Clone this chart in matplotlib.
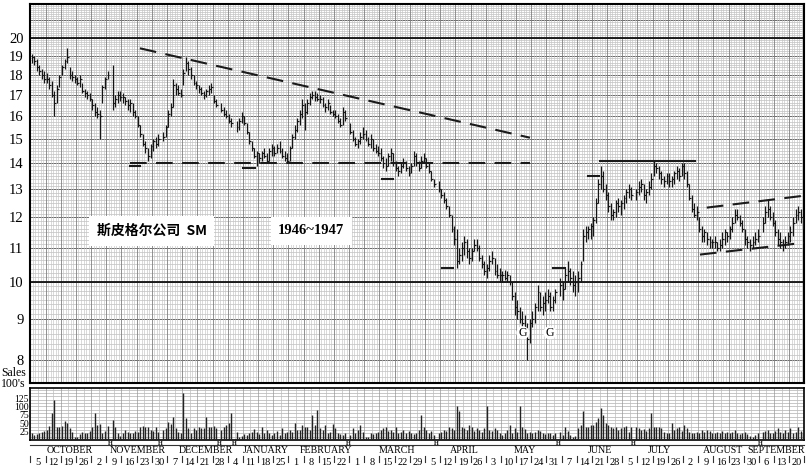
import numpy as np
import matplotlib.pyplot as plt
from matplotlib.transforms import blended_transform_factory

plt.rcParams['font.family'] = ['Liberation Serif', 'Noto Sans CJK SC', 'DejaVu Sans']

# daily bars, six trading days per week (Mon..Sat), None = holiday
# each row: one week, entries (high, low, close)
weeks = [
    [(19.1, 18.6, 18.9), (19.0, 18.5, 18.7), (18.8, 18.2, 18.4), (18.5, 18.0, 18.2), (18.3, 17.8, 18.0), (18.2, 17.6, 17.8)],
    [(18.1, 17.6, 17.8), (17.9, 17.3, 17.5), (17.7, 16.9, 17.0), (17.2, 16.0, 16.6), (17.5, 16.6, 17.3), (18.0, 17.4, 17.9)],
    [(18.5, 18.0, 18.4), (18.8, 18.3, 18.7), (19.4, 18.6, 18.9), (18.4, 17.8, 18.0), (18.2, 17.7, 17.9), (18.0, 17.6, 17.8)],
    [(17.9, 17.5, 17.6), (18.0, 17.4, 17.8), (17.6, 17.1, 17.2), (17.3, 16.9, 17.1), (17.2, 16.8, 17.0), (17.1, 16.7, 16.8)],
    [(16.8, 16.3, 16.5), (16.6, 16.0, 16.2), (16.4, 15.9, 16.1), (16.3, 15.0, 16.0), (17.5, 16.6, 17.4), (17.9, 17.3, 17.8)],
    [(18.2, 17.8, 18.0), None, (18.5, 16.3, 16.6), (17.0, 16.4, 16.8), (17.2, 16.6, 17.0), (17.2, 16.7, 16.9)],
    [(17.1, 16.6, 16.9), (16.9, 16.5, 16.7), (16.8, 16.3, 16.5), (16.8, 16.2, 16.6), (16.6, 16.0, 16.2), (16.3, 15.9, 16.0)],
    [(16.0, 15.5, 15.6), (15.6, 15.1, 15.2), (15.2, 14.7, 14.8), (14.9, 14.4, 14.6), (14.6, 14.1, 14.3), (14.8, 14.2, 14.7)],
    [(15.0, 14.5, 14.9), (15.1, 14.6, 14.8), (15.2, 14.7, 15.0), None, (15.3, 14.9, 15.1), (15.6, 15.1, 15.5)],
    [(16.3, 15.5, 16.1), (16.6, 16.0, 16.4), (17.8, 16.4, 17.5), (17.6, 17.0, 17.3), (17.5, 17.0, 17.1), (17.3, 16.9, 17.0)],
    [(18.3, 17.5, 18.1), (18.9, 18.2, 18.6), (18.7, 18.0, 18.3), (18.4, 17.8, 18.0), (18.0, 17.5, 17.6), (17.7, 17.3, 17.5)],
    [(17.5, 17.1, 17.3), (17.4, 17.0, 17.1), (17.2, 16.8, 17.0), (17.3, 16.9, 17.2), (17.5, 17.0, 17.3), (17.6, 17.1, 17.4)],
    [(17.0, 16.6, 16.7), (16.8, 16.4, 16.5), None, (16.6, 16.2, 16.3), (16.4, 16.0, 16.1), (16.3, 15.9, 16.0)],
    [(16.1, 15.7, 15.8), (15.9, 15.5, 15.7), None, (15.8, 15.3, 15.5), (15.9, 15.4, 15.8), (16.2, 15.7, 16.0)],
    [(16.0, 15.6, 15.7), (15.7, 15.2, 15.3), (15.3, 14.8, 14.9), (14.9, 14.5, 14.6), (14.6, 14.2, 14.3), (14.5, 13.9, 14.4)],
    [(14.4, 14.0, 14.2), (14.5, 14.1, 14.4), (14.6, 14.2, 14.3), (14.4, 14.0, 14.1), (14.6, 14.1, 14.5), (14.8, 14.3, 14.6)],
    [(14.7, 14.3, 14.4), (14.8, 14.4, 14.6), (14.9, 14.4, 14.5), (14.6, 14.2, 14.3), (14.5, 14.1, 14.2), (14.4, 14.0, 14.1)],
    [(14.7, 14.1, 14.6), (15.2, 14.6, 15.1), (15.6, 15.0, 15.4), (15.9, 15.3, 15.8), (16.3, 15.6, 16.1), (16.8, 15.9, 16.5)],
    [(16.6, 15.4, 16.2), (16.8, 16.1, 16.6), (17.1, 16.5, 16.9), (17.2, 16.8, 17.0), (17.2, 16.7, 16.9), (17.1, 16.7, 16.8)],
    [(17.0, 16.6, 16.8), (16.9, 16.4, 16.5), (16.6, 16.2, 16.4), (16.8, 16.3, 16.6), (16.5, 16.1, 16.2), (16.3, 16.0, 16.1)],
    [(16.3, 15.9, 16.0), (16.1, 15.7, 15.8), (15.9, 15.5, 15.6), (16.4, 15.6, 16.2), (16.3, 15.8, 15.9), None],
    [(15.7, 15.2, 15.3), (15.4, 14.9, 15.0), (15.1, 14.7, 14.8), (15.0, 14.6, 14.9), (15.3, 14.8, 15.1), (15.5, 15.0, 15.2)],
    [(15.4, 14.9, 15.0), (15.1, 14.7, 14.8), (15.2, 14.6, 15.0), (15.0, 14.5, 14.6), (14.8, 14.4, 14.5), (14.7, 14.3, 14.4)],
    [(14.6, 14.1, 14.2), (14.3, 13.8, 14.0), (14.2, 13.7, 13.9), (14.4, 13.9, 14.3), (14.6, 14.1, 14.4), (14.4, 13.9, 14.0)],
    [(14.1, 13.7, 13.8), (13.9, 13.5, 13.7), (14.0, 13.6, 13.9), (14.2, 13.8, 14.0), (14.1, 13.7, 13.8), (13.9, 13.5, 13.6)],
    [(14.0, 13.6, 13.9), (14.5, 13.9, 14.3), (14.4, 13.9, 14.0), (14.1, 13.7, 13.8), (14.3, 13.8, 14.1), (14.4, 14.0, 14.2)],
    [(14.2, 13.8, 13.9), (14.0, 13.6, 13.7), (13.7, 13.3, 13.4), (13.4, 13.1, 13.2), None, (13.3, 12.9, 13.0)],
    [(13.0, 12.7, 12.8), (12.9, 12.5, 12.6), (12.7, 12.3, 12.4), (12.4, 12.0, 12.1), (12.1, 11.5, 11.6), (11.7, 11.1, 11.3)],
    [(11.6, 10.4, 10.6), (11.0, 10.5, 10.8), (11.2, 10.6, 11.0), (11.4, 10.8, 11.2), (11.3, 10.7, 10.9), (11.0, 10.5, 10.7)],
    [(11.0, 10.6, 10.9), (11.3, 10.9, 11.1), (11.3, 10.9, 11.0), (11.1, 10.6, 10.7), (10.8, 10.4, 10.5), (10.6, 10.2, 10.3)],
    [(10.5, 10.1, 10.4), (10.8, 10.3, 10.6), (10.9, 10.5, 10.7), (10.7, 10.2, 10.3), (10.5, 10.1, 10.2), (10.4, 10.0, 10.2)],
    [(10.3, 10.0, 10.2), (10.35, 10.05, 10.1), (10.3, 10.0, 10.2), (10.2, 9.9, 10.0), (10.0, 9.5, 9.6), (9.7, 9.1, 9.3)],
    [(9.5, 9.0, 9.2), (9.3, 8.9, 9.0), (9.2, 8.8, 8.9), (9.1, 8.6, 8.8), (8.9, 8.0, 8.5), (9.0, 8.4, 8.9)],
    [(9.2, 8.8, 9.0), (9.4, 8.9, 9.3), (9.9, 9.2, 9.7), (9.7, 9.2, 9.3), (9.6, 9.1, 9.4), (9.7, 9.2, 9.5)],
    [(9.8, 9.4, 9.6), (9.7, 9.2, 9.3), (9.6, 9.2, 9.5), (9.8, 9.4, 9.7), None, (10.1, 9.6, 9.9)],
    [(10.0, 9.5, 9.8), (10.4, 9.8, 10.2), (10.6, 10.0, 10.3), (10.4, 9.9, 10.1), (10.3, 9.7, 9.9), (10.2, 9.6, 10.0)],
    [(10.3, 9.7, 10.1), (10.6, 10.0, 10.5), (11.6, 10.6, 11.4), (11.7, 11.2, 11.5), (11.7, 11.3, 11.6), (11.8, 11.3, 11.7)],
    [(12.0, 11.4, 11.9), (12.7, 11.8, 12.5), (13.4, 12.5, 13.2), (13.9, 13.0, 13.5), (13.7, 12.9, 13.0), (13.2, 12.6, 12.8)],
    [(12.9, 12.2, 12.4), (12.5, 11.9, 12.1), (12.3, 11.9, 12.2), (12.6, 12.0, 12.5), (12.7, 12.2, 12.4), (12.6, 12.1, 12.5)],
    [(12.8, 12.3, 12.7), (13.0, 12.5, 12.9), (13.2, 12.7, 13.0), (13.1, 12.6, 12.8), None, (13.0, 12.6, 12.9)],
    [(13.3, 12.8, 13.1), (13.4, 12.9, 13.2), (13.2, 12.6, 12.8), (13.0, 12.5, 12.9), (13.3, 12.8, 13.1), (13.6, 13.0, 13.4)],
    [(14.1, 13.5, 13.9), (14.0, 13.6, 13.8), (13.9, 13.4, 13.6), (13.7, 13.2, 13.4), (13.5, 13.1, 13.3), (13.6, 13.2, 13.5)],
    [(13.6, 13.1, 13.3), (13.5, 13.1, 13.4), (13.7, 13.2, 13.6), (13.9, 13.4, 13.7), (13.8, 13.3, 13.5), (14.0, 13.5, 13.9)],
    [(14.0, 13.4, 13.6), (13.7, 13.1, 13.2), (13.2, 12.6, 12.7), (12.8, 12.2, 12.3), (12.5, 12.0, 12.1), (12.4, 11.9, 12.2)],
    [(12.0, 11.5, 11.6), (11.7, 11.2, 11.4), (11.6, 11.2, 11.5), (11.5, 11.1, 11.3), (11.4, 11.0, 11.2), (11.3, 11.0, 11.2)],
    [(11.4, 11.0, 11.2), (11.2, 10.9, 11.0), (11.3, 10.9, 11.1), (11.5, 11.0, 11.3), (11.6, 11.1, 11.5), (11.5, 11.2, 11.4)],
    [(11.7, 11.3, 11.6), (12.0, 11.5, 11.8), (12.3, 11.8, 12.1), (12.3, 11.9, 12.0), (12.1, 11.7, 11.8), (11.9, 11.5, 11.6)],
    [(11.6, 11.1, 11.3), (11.4, 11.0, 11.2), (11.3, 10.9, 11.1), (11.4, 11.0, 11.2), (11.5, 11.1, 11.3), (11.6, 11.2, 11.4)],
    [None, (12.0, 11.5, 11.8), (12.4, 11.8, 12.2), (12.6, 12.0, 12.3), (12.4, 11.9, 12.0), (12.2, 11.7, 11.8)],
    [(11.9, 11.4, 11.5), (11.6, 11.1, 11.3), (11.5, 11.0, 11.2), (11.3, 10.9, 11.1), (11.4, 11.0, 11.2), (11.5, 11.1, 11.4)],
    [(11.7, 11.2, 11.5), (12.0, 11.4, 11.8), (12.3, 11.8, 12.1), (12.4, 11.9, 12.2), (12.3, 11.8, 12.0), (12.0, 11.6, 11.9)],
]

# daily volume in hundreds of shares, same layout
volumes = [
    [20, 15, 18, 22, 25, 28], [30, 42, 80, 120, 40, 38], [42, 58, 52, 35, 25, 10], [8, 18, 25, 20, 22, 28],
    [40, 80, 45, 48, 22, 28], [42, 0, 60, 40, 22, 12], [20, 30, 25, 22, 20, 28], [25, 40, 42, 40, 38, 30],
    [28, 40, 25, 0, 30, 35], [55, 48, 70, 35, 25, 20], [140, 65, 35, 20, 35, 30], [40, 35, 35, 70, 38, 40],
    [42, 35, 0, 30, 40, 45], [52, 80, 0, 25, 10, 12], [18, 15, 20, 25, 32, 25], [18, 38, 22, 30, 20, 15],
    [20, 28, 15, 35, 22, 25], [30, 25, 50, 30, 30, 45], [40, 38, 30, 75, 45, 90], [35, 30, 45, 20, 25, 48],
    [35, 20, 18, 15, 22, 0], [15, 35, 22, 30, 45, 25], [10, 8, 20, 18, 22, 25], [30, 35, 40, 28, 30, 25],
    [38, 20, 25, 30, 22, 28], [20, 18, 22, 30, 75, 40], [30, 22, 28, 15, 0, 20], [25, 30, 28, 38, 35, 30],
    [100, 85, 40, 35, 30, 45], [40, 28, 35, 30, 25, 35], [100, 30, 28, 35, 30, 20], [15, 20, 30, 45, 20, 35],
    [25, 100, 40, 32, 20, 25], [20, 25, 30, 28, 22, 18], [22, 20, 15, 20, 0, 25], [15, 40, 28, 15, 10, 12],
    [35, 45, 85, 40, 40, 45], [45, 55, 65, 95, 75, 50], [45, 40, 35, 38, 30, 35], [38, 42, 25, 40, 0, 40],
    [35, 30, 32, 28, 35, 80], [40, 38, 40, 35, 25, 20], [20, 50, 30, 35, 38, 28], [45, 35, 25, 20, 22, 25],
    [20, 30, 25, 30, 28, 22], [20, 25, 22, 28, 20, 25], [20, 25, 30, 22, 18, 20], [25, 18, 12, 10, 15, 20],
    [0, 25, 28, 30, 20, 22], [28, 35, 25, 20, 30, 25], [35, 20, 25, 38, 28, 20],
]

week_days = ['5', '12', '19', '26', '2', '9', '16', '23', '30', '7', '14', '21', '28', '4', '11', '18', '25',
             '1', '8', '15', '22', '1', '8', '15', '22', '29', '5', '12', '19', '26', '3', '10', '17', '24', '31',
             '7', '14', '21', '28', '5', '12', '19', '26', '2', '9', '16', '23', '30', '6', '13', '20']
months = ['OCTOBER', 'NOVEMBER', 'DECEMBER', 'JANUARY', 'FEBRUARY', 'MARCH', 'APRIL',
          'MAY', 'JUNE', 'JULY', 'AUGUST', 'SEPTEMBER']
month_pos = [15.5, 42.5, 69.5, 93, 117, 145, 171.5, 195.5, 225, 248.5, 274, 295]

# trend lines drawn on the chart (day index, price)
down_line = ([43.3, 197.5], [19.4, 15.05])
support_line = ([39.4, 197.5], [14.0, 14.0])
channel_top = ([267.4, 305.4], [12.34, 12.76])
channel_bottom = ([264.7, 306], [10.8, 11.17])
top_line = ([225, 262.7], [14.1, 14.1])
short_marks = [(39.4, 43.3, 13.9), (84.0, 88.8, 13.8), (139.0, 143.3, 13.4),
               (162.7, 167.0, 10.4), (206.6, 211.3, 10.4), (220.4, 224.7, 13.5)]
g_marks = [(194.7, 8.65), (205.4, 8.65)]

xs, hi, lo, cl, vol = [], [], [], [], []
holidays = []
for w, row in enumerate(weeks):
    for d, bar in enumerate(row):
        if bar is None:
            holidays.append(w * 6 + d + 0.5)
            continue
        xs.append(w * 6 + d + 0.5)
        hi.append(bar[0]); lo.append(bar[1]); cl.append(bar[2])
        vol.append(volumes[w][d])
xs = np.array(xs)
n_slots = len(weeks) * 6

W, H = 811, 466
fig = plt.figure(figsize=(W / 100, H / 100), dpi=100)
fig.patch.set_facecolor('white')
ax = fig.add_axes([30.4 / W, (H - 383) / H, 774 / W, 379 / H])
axv = fig.add_axes([30.4 / W, (H - 440) / H, 774 / W, 52 / H])

# ---- price panel
ax.set_yscale('log')
ax.set_ylim(7.5, 22)
ax.set_xlim(0, n_slots)
for p in np.arange(7.5, 22.01, 0.125):
    if abs(p - round(p)) < 1e-6:
        ax.axhline(p, color='#6a6a6a', lw=0.7, zorder=0)
    else:
        ax.axhline(p, color='#b8b8b8', lw=0.45, zorder=0)
for p in (10, 20):
    ax.axhline(p, color='#111', lw=1.3, zorder=1)
for s in range(n_slots + 1):
    if s % 6 == 0:
        ax.axvline(s, color='#808080', lw=0.6, zorder=0)
    else:
        ax.axvline(s, color='#c4c4c4', lw=0.45, zorder=0)

ax.vlines(xs, lo, hi, color='#151515', lw=0.85, zorder=3)
ax.hlines(cl, xs, xs + 0.75, color='#151515', lw=0.85, zorder=3)

dash = dict(color='#1a1a1a', lw=1.5, ls=(0, (8, 4.5)), zorder=4)
ax.plot(*down_line, **dash)
ax.plot(*support_line, **dash)
ax.plot(*channel_top, **dash)
ax.plot(*channel_bottom, **dash)
ax.plot(*top_line, color='#1a1a1a', lw=1.5, zorder=4)
for x0, x1, p in short_marks:
    ax.plot([x0, x1], [p, p], color='#1a1a1a', lw=1.5, zorder=4)
for x, p in g_marks:
    ax.text(x, p, 'G', fontsize=8.5, ha='center', va='center', zorder=5,
            bbox=dict(boxstyle='circle,pad=0.05', fc='white', ec='none'))

ax.text(48, 11.55, '斯皮格尔公司  SM', fontsize=10, fontweight='bold', ha='center', va='center',
        family=['Noto Sans CJK SC', 'Liberation Serif'], zorder=5,
        bbox=dict(boxstyle='square,pad=0.55', fc='white', ec='none'))
ax.text(111, 11.55, '1946~1947', fontsize=10.5, fontweight='bold', ha='center', va='center', zorder=5,
        bbox=dict(boxstyle='square,pad=0.5', fc='white', ec='none'))

ax.set_yticks(range(8, 21))
ax.set_yticklabels([str(v) for v in range(8, 21)], fontsize=10.5)
ax.yaxis.set_minor_locator(plt.NullLocator())
ax.tick_params(axis='y', length=0, pad=5)
ax.set_xticks([])
for sp in ax.spines.values():
    sp.set_linewidth(1.5)

# ---- volume panel
axv.set_xlim(0, n_slots)
axv.set_ylim(0, 155)
for v in range(10, 155, 10):
    axv.axhline(v, color='#a8a8a8', lw=0.45, zorder=0)
for s in range(0, n_slots + 1, 3):
    axv.axvline(s, color='#9a9a9a' if s % 6 == 0 else '#bdbdbd', lw=0.5, zorder=0)
axv.vlines(xs, 0, vol, color='#222', lw=1.0, zorder=3)
axv.set_yticks([25, 50, 75, 100, 125])
axv.set_yticklabels(['25', '50', '75', '100', '125'], fontsize=7)
axv.tick_params(axis='y', length=0, pad=1)
axv.set_xticks([])
for sp in axv.spines.values():
    sp.set_linewidth(1.2)

fig.text(1 / W, 1 - 373 / H, 'Sales', fontsize=8.5, va='center')
fig.text(1 / W, 1 - 384 / H, "100's", fontsize=8.5, va='center')

# ---- date strip
tr = blended_transform_factory(axv.transData, axv.transAxes)
for x in holidays:
    axv.text(x, -0.06, 'H', fontsize=4.5, fontweight='bold', ha='center', va='center',
             transform=tr, clip_on=False)
axv.plot([0, n_slots], [-0.1, -0.1], color='#333', lw=0.8, transform=tr, clip_on=False)
for m, x in zip(months, month_pos):
    axv.text(x, -0.2, m, fontsize=7.2, ha='center', va='center', transform=tr, clip_on=False)
for w, d in enumerate(week_days):
    axv.text(w * 6 + 3, -0.43, d, fontsize=7.5, ha='center', va='center', transform=tr, clip_on=False)
    axv.plot([w * 6, w * 6], [-0.3, -0.42], color='#333', lw=0.8, transform=tr, clip_on=False)
axv.plot([n_slots, n_slots], [-0.3, -0.42], color='#333', lw=0.8, transform=tr, clip_on=False)

fig.savefig('out.png', dpi=100)
